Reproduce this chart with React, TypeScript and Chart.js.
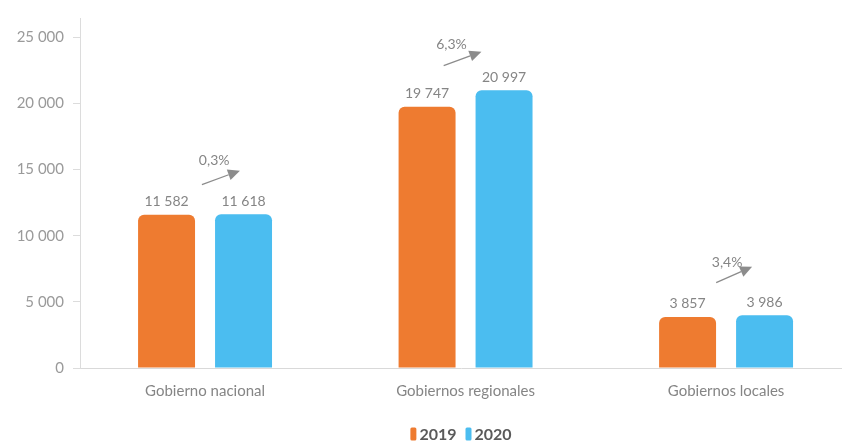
import React, { useEffect, useRef } from "react";
import { Chart, registerables } from "chart.js";

Chart.register(...registerables);

const categories = ["Gobierno nacional", "Gobiernos regionales", "Gobiernos locales"];
const seriesNames = ["2019", "2020"];
const values2019 = [11582, 19747, 3857];
const values2020 = [11618, 20997, 3986];
const growthLabels = ["0,3%", "6,3%", "3,4%"];
// annotation anchors in data units (category index, value)
const arrowStartX = [-0.012, 0.916, 1.962];
const arrowStartY = [13870, 22860, 6450];
const arrowEndX = [0.134, 1.061, 2.1];
const arrowEndY = [14920, 23910, 7650];
const growthTextX = [0.035, 0.946, 2.004];
const growthTextY = [15670, 24440, 7950];
const yTicks = [0, 5000, 10000, 15000, 20000, 25000];

const ORANGE = "#EE7B30";
const BLUE = "#4BBDF0";
const GREY = "#858585";
const FONT = "Lato, 'Open Sans', sans-serif";

const fmt = (v: number) => String(Math.round(v)).replace(/\B(?=(\d{3})+(?!\d))/g, " ");

const overlayPlugin = {
  id: "overlay",
  afterDatasetsDraw(chart: any) {
    const ctx = chart.ctx;
    const xs = chart.scales.x;
    const ys = chart.scales.y;
    ctx.save();
    // value labels
    ctx.font = `14px ${FONT}`;
    ctx.fillStyle = GREY;
    ctx.textAlign = "center";
    ctx.textBaseline = "bottom";
    chart.data.datasets.forEach((ds: any, di: number) => {
      const meta = chart.getDatasetMeta(di);
      meta.data.forEach((el: any, i: number) => {
        ctx.fillText(fmt(ds.data[i].y), el.x, el.y - 6);
      });
    });
    // arrows + growth
    for (let i = 0; i < growthLabels.length; i++) {
      const x1 = xs.getPixelForValue(arrowStartX[i]);
      const y1 = ys.getPixelForValue(arrowStartY[i]);
      const x2 = xs.getPixelForValue(arrowEndX[i]);
      const y2 = ys.getPixelForValue(arrowEndY[i]);
      const ang = Math.atan2(y2 - y1, x2 - x1);
      const head = 12;
      const bx = x2 - head * Math.cos(ang);
      const by = y2 - head * Math.sin(ang);
      ctx.strokeStyle = "#8c8c8c";
      ctx.lineWidth = 1.3;
      ctx.beginPath();
      ctx.moveTo(x1, y1);
      ctx.lineTo(bx, by);
      ctx.stroke();
      ctx.fillStyle = "#8c8c8c";
      ctx.beginPath();
      ctx.moveTo(x2, y2);
      ctx.lineTo(bx + 5.5 * Math.sin(ang), by - 5.5 * Math.cos(ang));
      ctx.lineTo(bx - 5.5 * Math.sin(ang), by + 5.5 * Math.cos(ang));
      ctx.closePath();
      ctx.fill();
      ctx.font = `14px ${FONT}`;
      ctx.fillStyle = GREY;
      ctx.textAlign = "center";
      ctx.textBaseline = "middle";
      ctx.fillText(growthLabels[i], xs.getPixelForValue(growthTextX[i]), ys.getPixelForValue(growthTextY[i]));
    }
    // legend
    ctx.font = `bold 16px ${FONT}`;
    ctx.textBaseline = "middle";
    ctx.textAlign = "left";
    const colors = [ORANGE, BLUE];
    const boxW = 6, boxH = 13, gap = 3, itemGap = 9;
    const widths = seriesNames.map((n) => boxW + gap + ctx.measureText(n).width);
    const total = widths.reduce((a, b) => a + b, 0) + itemGap;
    let lx = (chart.chartArea.left + chart.chartArea.right) / 2 - total / 2;
    const ly = 434;
    seriesNames.forEach((n, i) => {
      ctx.fillStyle = colors[i];
      ctx.beginPath();
      (ctx as any).roundRect(lx, ly - boxH / 2, boxW, boxH, 1.5);
      ctx.fill();
      ctx.fillStyle = "#5a5a5a";
      ctx.fillText(n, lx + boxW + gap, ly + 1);
      lx += widths[i] + itemGap;
    });
    ctx.restore();
  },
};

export default function App() {
  const ref = useRef<HTMLCanvasElement | null>(null);
  useEffect(() => {
    if (!ref.current) return;
    const chart = new Chart(ref.current, {
      type: "bar",
      data: {
        datasets: [
          {
            label: seriesNames[0],
            data: values2019.map((v, i) => ({ x: i, y: v })),
            backgroundColor: ORANGE,
            borderRadius: 6,
            borderSkipped: "start",
            categoryPercentage: 0.591,
            barPercentage: 0.74,
          },
          {
            label: seriesNames[1],
            data: values2020.map((v, i) => ({ x: i, y: v })),
            backgroundColor: BLUE,
            borderRadius: 6,
            borderSkipped: "start",
            categoryPercentage: 0.591,
            barPercentage: 0.74,
          },
        ],
      },
      options: {
        animation: false,
        responsive: true,
        maintainAspectRatio: false,
        layout: { padding: { top: 15, right: 0, left: 0, bottom: 0 } },
        plugins: { legend: { display: false }, tooltip: { enabled: false } },
        scales: {
          x: {
            type: "linear",
            offset: false,
            min: -0.48,
            max: 2.445,
            grid: { display: false, drawTicks: false, offset: false },
            border: { display: true, color: "#d9d9d9", width: 1 },
            ticks: {
              padding: 14,
              color: GREY,
              font: { family: FONT, size: 15 },
              callback: (v: any) => categories[v] ?? "",
            },
            afterBuildTicks: (scale: any) => {
              scale.ticks = categories.map((_, i) => ({ value: i }));
            },
            afterFit: (scale: any) => {
              scale.height = 76;
            },
          },
          y: {
            min: 0,
            max: 26460,
            grid: { drawOnChartArea: false, drawTicks: true, tickLength: 7, color: "#dcdcdc" },
            border: { display: true, color: "#dcdcdc", width: 1 },
            ticks: {
              padding: 9,
              color: "#9a9a9a",
              font: { family: FONT, size: 15 },
              callback: (v: any) => fmt(v),
            },
            afterBuildTicks: (scale: any) => {
              scale.ticks = yTicks.map((v) => ({ value: v }));
            },
            afterFit: (scale: any) => {
              scale.width = 80;
            },
          },
        },
      },
      plugins: [overlayPlugin],
    });
    return () => chart.destroy();
  }, []);
  return (
    <div style={{ position: "fixed", left: 0, top: 0, width: 842, height: 444, background: "#fff" }}>
      <canvas ref={ref} />
    </div>
  );
}
